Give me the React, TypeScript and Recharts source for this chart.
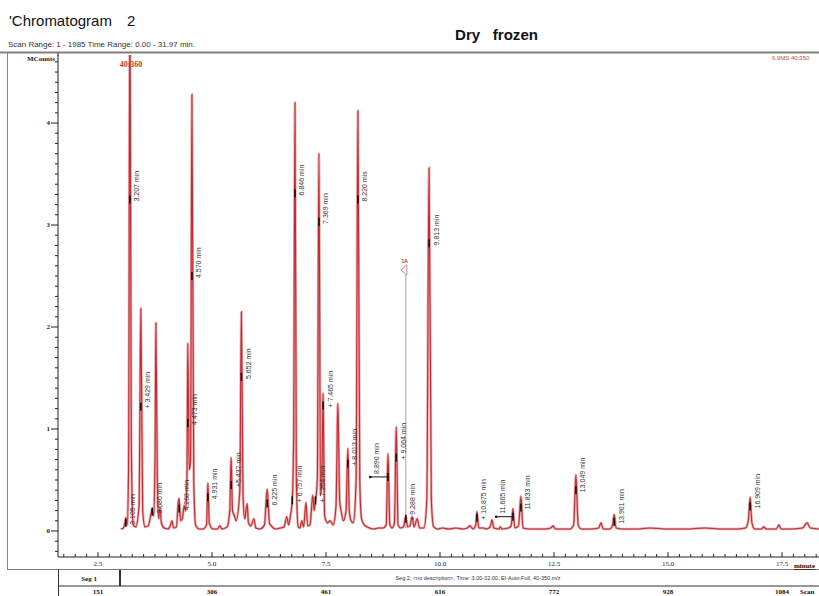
import {
    ComposedChart,
    Line,
    Scatter,
    XAxis,
    YAxis,
    ReferenceLine,
    ReferenceDot,
} from "recharts";

// TIC trace: [minutes, MCounts]
const trace: [number, number][] = [
    [3.0, 0.02], [3.06, 0.03], [3.09, 0.08], [3.11, 0.13], [3.14, 0.06],
    [3.17, 0.6], [3.2, 5.3], [3.23, 0.9], [3.27, 0.06], [3.33, 0.04],
    [3.4, 0.25], [3.44, 2.18], [3.48, 0.2], [3.53, 0.04], [3.6, 0.05],
    [3.66, 0.16], [3.69, 0.22], [3.72, 0.15], [3.75, 0.7], [3.77, 2.04],
    [3.8, 0.55], [3.83, 0.12], [3.86, 0.23], [3.89, 0.08], [3.95, 0.03],
    [4.04, 0.02], [4.09, 0.06], [4.12, 0.1], [4.16, 0.03], [4.22, 0.04],
    [4.26, 0.28], [4.28, 0.32], [4.31, 0.1], [4.35, 0.12], [4.39, 0.25],
    [4.42, 0.2], [4.45, 0.5], [4.47, 1.84], [4.5, 0.6], [4.53, 0.7],
    [4.56, 4.28], [4.6, 0.5], [4.64, 0.06], [4.72, 0.02], [4.8, 0.02],
    [4.88, 0.06], [4.91, 0.47], [4.94, 0.08], [5.02, 0.02], [5.12, 0.02],
    [5.17, 0.05], [5.22, 0.02], [5.33, 0.04], [5.39, 0.2], [5.42, 0.72],
    [5.45, 0.2], [5.49, 0.15], [5.53, 0.1], [5.61, 0.4], [5.645, 2.15],
    [5.68, 0.35], [5.72, 0.12], [5.77, 0.27], [5.8, 0.08], [5.85, 0.05],
    [5.92, 0.12], [5.96, 0.03], [6.05, 0.02], [6.15, 0.06], [6.21, 0.41],
    [6.26, 0.08], [6.3, 0.05], [6.4, 0.02], [6.5, 0.03], [6.58, 0.04],
    [6.64, 0.14], [6.68, 0.06], [6.72, 0.15], [6.76, 0.3], [6.79, 0.9],
    [6.82, 4.2], [6.85, 0.5], [6.89, 0.04], [6.93, 0.03], [6.97, 0.1],
    [7.01, 0.04], [7.06, 0.28], [7.1, 0.05], [7.15, 0.06], [7.21, 0.35],
    [7.24, 0.2], [7.27, 0.3], [7.31, 0.5], [7.345, 3.7], [7.38, 0.35],
    [7.41, 0.5], [7.435, 1.35], [7.47, 0.15], [7.53, 0.08], [7.59, 0.1],
    [7.66, 0.06], [7.72, 0.25], [7.76, 1.25], [7.8, 0.3], [7.83, 0.2],
    [7.88, 0.1], [7.94, 0.2], [7.98, 0.81], [8.01, 0.2], [8.05, 0.1],
    [8.1, 0.08], [8.16, 0.5], [8.2, 4.12], [8.24, 0.5], [8.28, 0.12],
    [8.34, 0.06], [8.45, 0.03], [8.55, 0.02], [8.65, 0.03], [8.75, 0.03],
    [8.82, 0.06], [8.86, 0.76], [8.9, 0.06], [8.95, 0.03], [9.0, 0.08],
    [9.04, 1.02], [9.08, 0.06], [9.14, 0.03], [9.2, 0.04], [9.25, 0.15],
    [9.29, 0.04], [9.34, 0.05], [9.39, 0.14], [9.43, 0.04], [9.5, 0.12],
    [9.55, 0.03], [9.65, 0.03], [9.71, 0.3], [9.76, 3.56], [9.81, 0.3],
    [9.86, 0.04], [9.95, 0.02], [10.05, 0.03], [10.2, 0.02], [10.35, 0.03],
    [10.5, 0.02], [10.6, 0.03], [10.66, 0.05], [10.72, 0.02], [10.78, 0.05],
    [10.81, 0.19], [10.85, 0.03], [10.95, 0.03], [11.02, 0.02], [11.1, 0.04],
    [11.14, 0.11], [11.18, 0.03], [11.3, 0.02], [11.32, 0.04], [11.36, 0.02],
    [11.5, 0.03], [11.56, 0.05], [11.6, 0.22], [11.64, 0.03], [11.72, 0.05],
    [11.775, 0.34], [11.82, 0.03], [11.95, 0.02], [12.1, 0.02], [12.3, 0.02],
    [12.43, 0.03], [12.48, 0.05], [12.53, 0.02], [12.7, 0.02], [12.85, 0.02],
    [12.93, 0.06], [12.98, 0.55], [13.03, 0.06], [13.1, 0.02], [13.3, 0.02],
    [13.48, 0.03], [13.53, 0.08], [13.58, 0.02], [13.72, 0.02], [13.78, 0.05],
    [13.82, 0.16], [13.86, 0.03], [14.0, 0.02], [14.3, 0.02], [14.6, 0.03],
    [15.0, 0.02], [15.4, 0.02], [15.8, 0.03], [16.2, 0.02], [16.5, 0.02],
    [16.7, 0.03], [16.76, 0.1], [16.8, 0.33], [16.84, 0.08], [16.9, 0.02],
    [17.05, 0.02], [17.1, 0.04], [17.15, 0.02], [17.38, 0.02], [17.43, 0.06],
    [17.48, 0.02], [17.7, 0.02], [17.95, 0.03], [18.05, 0.08], [18.12, 0.03],
    [18.31, 0.02],
];

// peak annotations: where the marker sits on the trace, its text,
// and for the two integrated ones, where the baseline bar starts
const peakLabels: { t: number; v: number; text: string; from?: number }[] = [
    { t: 3.11, v: 0.08, text: "3.105 min" },
    { t: 3.2, v: 3.25, text: "3.207 min" },
    { t: 3.44, v: 1.22, text: "+ 3.429 min" },
    { t: 3.69, v: 0.19, text: "3.686 min" },
    { t: 4.28, v: 0.22, text: "4.268 min" },
    { t: 4.47, v: 1.06, text: "4.473 min" },
    { t: 4.56, v: 2.5, text: "4.570 min" },
    { t: 4.91, v: 0.33, text: "4.931 min" },
    { t: 5.42, v: 0.45, text: "+5.437 min" },
    { t: 5.645, v: 1.51, text: "5.652 min" },
    { t: 6.21, v: 0.27, text: "6.225 min" },
    { t: 6.76, v: 0.3, text: "+ 6.757 min" },
    { t: 6.82, v: 3.31, text: "6.846 min" },
    { t: 7.27, v: 0.3, text: "+ 7.264 min" },
    { t: 7.345, v: 3.03, text: "7.369 min" },
    { t: 7.435, v: 1.23, text: "+ 7.465 min" },
    { t: 7.98, v: 0.66, text: "+ 8.013 min" },
    { t: 8.2, v: 3.25, text: "8.220 mis" },
    { t: 8.86, v: 0.53, text: "8.890 min", from: 8.47 },
    { t: 9.04, v: 0.72, text: "+ 9.064 min" },
    { t: 9.25, v: 0.12, text: "+ 9.288 min" },
    { t: 9.76, v: 2.82, text: "9.813 min" },
    { t: 10.81, v: 0.13, text: "+ 10.875 min" },
    { t: 11.6, v: 0.14, text: "11.665 min", from: 11.23 },
    { t: 11.775, v: 0.23, text: "11.833 min" },
    { t: 12.98, v: 0.4, text: "13.049 min" },
    { t: 13.82, v: 0.09, text: "13.901 min" },
    { t: 16.8, v: 0.24, text: "16.909 min" },
];

const timeTicks = [2.5, 5, 7.5, 10, 12.5, 15, 17.5];
const timeTickLabels = ["2.5", "5.0", "7.5", "10.0", "12.5", "15.0", "17.5"];
const scanNumbers = ["151", "306", "461", "616", "772", "928", "1084"];
const countTicks = [0, 1, 2, 3, 4];
const eventMark = { t: 9.25, base: 0.03, top: 2.51, text: "1A" };

const X_DOMAIN: [number, number] = [1.623, 18.311];
const Y_DOMAIN: [number, number] = [-0.255, 4.667];

// minor ticks: every 0.25 min and every 0.1 MCounts
const xMinor = Array.from({ length: 67 }, (_, i) => 1.75 + i * 0.25);
const yMinor = Array.from({ length: 49 }, (_, i) => Math.round((i - 2) * 10) / 100);

const SERIF = "'Liberation Serif', 'DejaVu Serif', serif";
const SANS = "'Liberation Sans', Arial, sans-serif";
const TRACE_RED = "#c42a31";

function TimeTick(props: any) {
    const { x, y, payload } = props;
    const idx = timeTicks.findIndex((m) => Math.abs(m - payload.value) < 1e-6);
    return (
        <g>
            <line x1={x} x2={x} y1={y} y2={y - (idx >= 0 ? 5 : 3)} stroke="#222" />
            {idx >= 0 && (
                <>
                    <text x={x} y={y + 9} textAnchor="middle" fontSize={7} fontFamily={SERIF} fill="#222">
                        {timeTickLabels[idx]}
                    </text>
                    <text x={x} y={y + 37} textAnchor="middle" fontSize={7} fontWeight="bold" fontFamily={SERIF} fill="#111">
                        {scanNumbers[idx]}
                    </text>
                </>
            )}
        </g>
    );
}

function CountTick(props: any) {
    const { x, y, payload } = props;
    const major = countTicks.some((m) => Math.abs(m - payload.value) < 1e-6);
    return (
        <g>
            <line x1={x - (major ? 7 : 3)} x2={x} y1={y} y2={y} stroke="#222" />
            {major && (
                <text x={x - 8} y={y} dy="0.35em" textAnchor="end" fontSize={7} fontWeight="bold" fontFamily={SERIF} fill="#222">
                    {payload.value}
                </text>
            )}
        </g>
    );
}

function PeakMark(props: any) {
    const { cx, cy } = props;
    return <rect x={cx - 0.8} y={cy - 4} width={1.6} height={8} fill="#111" />;
}

function PeakText(props: any) {
    const { cx, cy, payload } = props;
    return (
        <g>
            {payload.bar && <circle cx={cx} cy={cy} r={1.3} fill="#111" />}
            <text
                transform={`translate(${cx + (payload.bar ? 6 : 7)},${cy + (payload.bar ? -3 : 2)}) rotate(-90)`}
                fontSize={7}
                fontFamily={SANS}
                fill="#333"
                dominantBaseline="central"
            >
                {payload.text}
            </text>
        </g>
    );
}

function EventFlag(props: any) {
    const { cx, cy } = props;
    return (
        <g>
            <polygon points={`${cx + 1},${cy - 10} ${cx - 5},${cy - 5} ${cx + 1},${cy}`} fill="none" stroke="#b07070" strokeWidth={0.8} />
            <text x={cx - 1} y={cy - 12} textAnchor="middle" fontSize={5} fontWeight="bold" fontFamily={SANS} fill="#c03030">
                {eventMark.text}
            </text>
        </g>
    );
}

export default function App() {
    const traceData = trace.map(([t, v]) => ({ t, v }));
    const markData = peakLabels.map((p) => ({ t: p.t, v: p.v }));
    const textData = peakLabels.map((p) => ({ t: p.from ?? p.t, v: p.v, text: p.text, bar: p.from != null }));

    return (
        <div style={{ position: "absolute", left: 0, top: 0, width: 819, height: 596, overflow: "hidden", background: "#fff" }}>
            <ComposedChart width={819} height={596} margin={{ top: 55, right: 0, bottom: 0, left: 0 }}>
                <XAxis
                    dataKey="t"
                    type="number"
                    domain={X_DOMAIN}
                    allowDataOverflow
                    ticks={xMinor}
                    interval={0}
                    height={39}
                    tickSize={0}
                    tickMargin={0}
                    tickLine={false}
                    tick={<TimeTick />}
                    axisLine={{ stroke: "#222" }}
                />
                <YAxis
                    type="number"
                    domain={Y_DOMAIN}
                    allowDataOverflow
                    ticks={yMinor}
                    interval={0}
                    width={58}
                    tickSize={0}
                    tickMargin={0}
                    tickLine={false}
                    tick={<CountTick />}
                    axisLine={{ stroke: "#222" }}
                />
                <ReferenceLine
                    segment={[{ x: eventMark.t, y: eventMark.base }, { x: eventMark.t, y: eventMark.top }]}
                    stroke="#c8a8a8"
                    strokeWidth={1.2}
                />
                <ReferenceDot x={eventMark.t} y={eventMark.top} shape={<EventFlag />} />
                {/* soft halo under the trace, like the printed double line */}
                <Line
                    data={traceData}
                    dataKey="v"
                    type="monotone"
                    stroke="#e7a9ab"
                    strokeWidth={2.6}
                    dot={false}
                    isAnimationActive={false}
                />
                <Line
                    data={traceData}
                    dataKey="v"
                    type="monotone"
                    stroke={TRACE_RED}
                    strokeWidth={1.1}
                    dot={false}
                    isAnimationActive={false}
                />
                {peakLabels
                    .filter((p) => p.from != null)
                    .map((p) => (
                        <ReferenceLine
                            key={p.text}
                            segment={[{ x: p.from, y: p.v }, { x: p.t, y: p.v }]}
                            stroke="#111"
                        />
                    ))}
                <Scatter data={markData} dataKey="v" shape={<PeakMark />} isAnimationActive={false} />
                <Scatter data={textData} dataKey="v" shape={<PeakText />} isAnimationActive={false} />
            </ComposedChart>

            <svg width={819} height={596} style={{ position: "absolute", left: 0, top: 0, pointerEvents: "none" }}>
                <text x={9} y={26} fontSize={15} fontFamily={SANS} fill="#111">'Chromatogram</text>
                <text x={127} y={26} fontSize={15} fontFamily={SANS} fill="#111">2</text>
                <text x={8} y={47} fontSize={7.5} fontFamily={SANS} fill="#333" textLength={187} lengthAdjust="spacingAndGlyphs">
                    Scan Range: 1 - 1985 Time Range: 0.00 - 31.97 min.
                </text>
                <text x={455} y={40} fontSize={14} fontWeight="bold" fontFamily={SANS} fill="#111" xmlSpace="preserve" textLength={83} lengthAdjust="spacingAndGlyphs">
                    Dry   frozen
                </text>

                {/* frame */}
                <line x1={0} x2={819} y1={52.5} y2={52.5} stroke="#808080" strokeWidth={2} />
                <line x1={7.5} x2={7.5} y1={52} y2={570} stroke="#888" />
                <line x1={7} x2={819} y1={569.5} y2={569.5} stroke="#777" />
                <line x1={58} x2={58} y1={53} y2={56} stroke="#222" />
                <text x={55} y={61} textAnchor="end" fontSize={7} fontWeight="bold" fontFamily={SERIF} fill="#222">MCounts</text>
                <text x={131} y={67} textAnchor="middle" fontSize={8} fontWeight="bold" fontFamily={SERIF} fill="#c0392b">40:360</text>
                <text x={772} y={60} fontSize={6} fontFamily={SANS} fill="#c05050">6.9MS 40:350</text>
                <text x={794} y={568} fontSize={7} fontWeight="bold" fontFamily={SERIF} fill="#111" textDecoration="underline">minute</text>

                {/* segment strip */}
                <line x1={58} x2={819} y1={586} y2={586} stroke="#333" />
                <line x1={58.5} x2={58.5} y1={570} y2={596} stroke="#333" />
                <line x1={120} x2={120} y1={570} y2={586} stroke="#333" strokeWidth={2} />
                <text x={89} y={580.5} textAnchor="middle" fontSize={7} fontWeight="bold" fontFamily={SERIF} fill="#111">Seg 1</text>
                <text x={478} y={580} textAnchor="middle" fontSize={5.5} fontFamily={SANS} fill="#333">
                    Seg 2, &lt;no description&gt;, Time: 3.00-32.00, EI-Auto-Full, 40-350 m/z
                </text>
                <text x={800} y={594} fontSize={7} fontWeight="bold" fontFamily={SERIF} fill="#111">Scan</text>
            </svg>
        </div>
    );
}
